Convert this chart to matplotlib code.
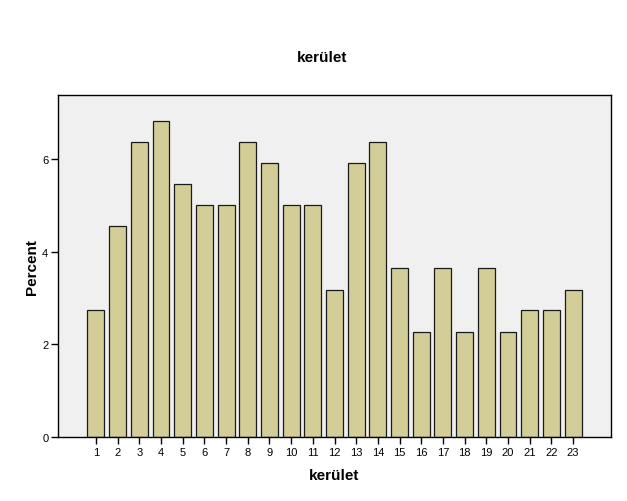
import matplotlib
matplotlib.use("Agg")
import matplotlib.pyplot as plt

categories = [str(i) for i in range(1, 24)]
percents = [2.73, 4.55, 6.36, 6.82, 5.45, 5.00, 5.00, 6.36, 5.91, 5.00, 5.00, 3.18,
            5.91, 6.36, 3.64, 2.27, 3.64, 2.27, 3.64, 2.27, 2.73, 2.73, 3.18]
yticks = [0, 2, 4, 6]

plt.rcParams['font.family'] = ['Liberation Sans', 'DejaVu Sans']

fig = plt.figure(figsize=(6.27, 5.02), dpi=100)
ax = fig.add_axes([58/627, 64/502, (611-58)/627, (438-96)/502])
ax.set_facecolor('#F0F0F0')
x = list(range(1, len(categories) + 1))
ax.bar(x, percents, width=0.78, color='#D3CE97', edgecolor='#1a1a1a', linewidth=0.9, zorder=2)
ax.set_xlim(-0.75, 24.75)
ax.set_ylim(0, 7.38)
ax.set_xticks(x)
ax.set_xticklabels(categories, fontsize=8)
ax.set_yticks(yticks)
ax.set_yticklabels([str(t) for t in yticks], fontsize=8)
ax.tick_params(axis='both', direction='out', length=5, width=1, color='#000000', pad=2)
for s in ax.spines.values():
    s.set_color('#000000')
    s.set_linewidth(1)
ax.set_xlabel('kerület', fontsize=11, fontweight='bold', labelpad=8)
ax.set_ylabel('Percent', fontsize=11, fontweight='bold', labelpad=2)
fig.text(322/627, 1 - 58/502, 'kerület', fontsize=11, fontweight='bold', ha='center', va='center')
fig.savefig('out.png', dpi=100, facecolor='white')
